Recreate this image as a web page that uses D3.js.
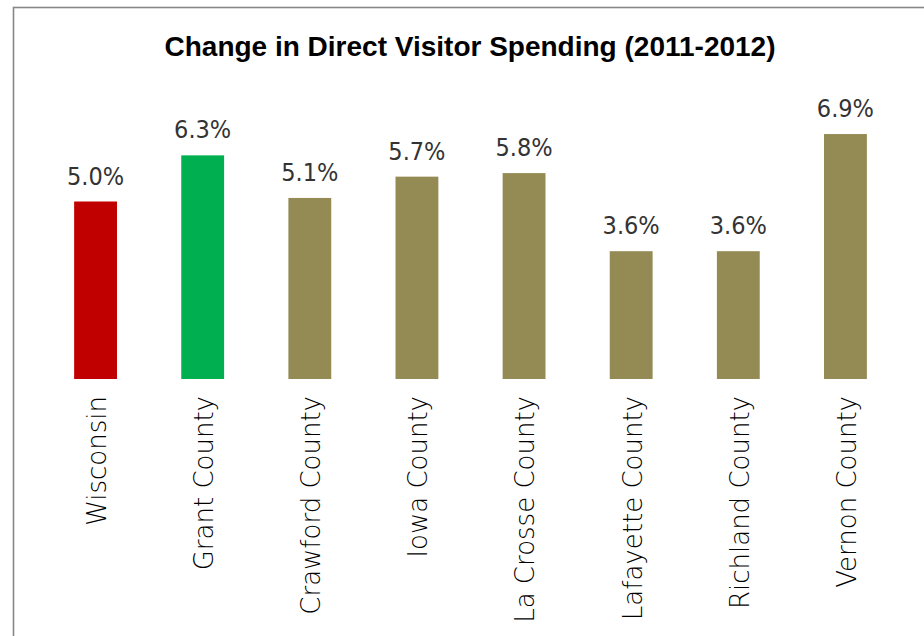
<!DOCTYPE html>
<html>
<head>
<meta charset="utf-8">
<script src="https://cdn.jsdelivr.net/npm/d3@7"></script>
<style>
  html, body { margin: 0; padding: 0; background: #fff; overflow: hidden; }
  svg { display: block; }
</style>
</head>
<body>
<script>
// Percent change in direct visitor spending, 2011 to 2012
const categories = ["Wisconsin", "Grant County", "Crawford County", "Iowa County",
  "La Crosse County", "Lafayette County", "Richland County", "Vernon County"];
const values = [5.0, 6.3, 5.1, 5.7, 5.8, 3.6, 3.6, 6.9];
const barColors = ["#C00000", "#00B050", "#948A54", "#948A54",
  "#948A54", "#948A54", "#948A54", "#948A54"];
const title = "Change in Direct Visitor Spending (2011-2012)";

const W = 924, H = 636;
const svg = d3.select("body").append("svg").attr("width", W).attr("height", H);

// chart frame (runs past the right and bottom edges)
svg.append("rect")
  .attr("x", 13.5).attr("y", 7.5)
  .attr("width", 1000).attr("height", 700)
  .attr("fill", "#fff")
  .attr("stroke", "#878787").attr("stroke-width", 1.6);

svg.append("text")
  .attr("x", 470).attr("y", 56)
  .attr("text-anchor", "middle")
  .attr("font-family", "'Liberation Sans', Arial, sans-serif")
  .attr("font-weight", "bold")
  .attr("font-size", 28)
  .attr("fill", "#000")
  .text(title);

const x = d3.scaleBand()
  .domain(categories)
  .range([42, 899])
  .paddingInner(0.6)
  .paddingOuter(0.3);

const y = d3.scaleLinear()
  .domain([0, 8])
  .range([379, 95]);

const data = categories.map((c, i) => ({ c, v: values[i], color: barColors[i] }));

svg.append("g").selectAll("rect")
  .data(data)
  .join("rect")
  .attr("x", d => x(d.c))
  .attr("y", d => y(d.v))
  .attr("width", x.bandwidth())
  .attr("height", d => y(0) - y(d.v))
  .attr("fill", d => d.color);

// value labels above bars
svg.append("g").selectAll("text")
  .data(data)
  .join("text")
  .attr("x", d => x(d.c) + x.bandwidth() / 2)
  .attr("y", d => y(d.v) - 17)
  .attr("text-anchor", "middle")
  .attr("font-family", "'DejaVu Sans Condensed', 'DejaVu Sans', sans-serif")
  .attr("font-stretch", "condensed")
  .attr("font-size", 25)
  .attr("fill", "#333")
  .text(d => d3.format(".1f")(d.v) + "%");

// rotated category labels below the baseline
const xAxis = svg.append("g")
  .attr("transform", `translate(0,${y(0)})`)
  .call(d3.axisBottom(x).tickSize(0).tickPadding(0));
xAxis.select(".domain").remove();
xAxis.selectAll(".tick text")
  .attr("transform", "translate(0,17) rotate(-90)")
  .attr("text-anchor", "end")
  .attr("x", 0)
  .attr("y", 0)
  .attr("dy", "0.4em")
  .attr("font-family", "'DejaVu Sans', sans-serif")
  .attr("font-weight", 200)
  .attr("font-size", 26)
  .attr("fill", "#000");
</script>
</body>
</html>
